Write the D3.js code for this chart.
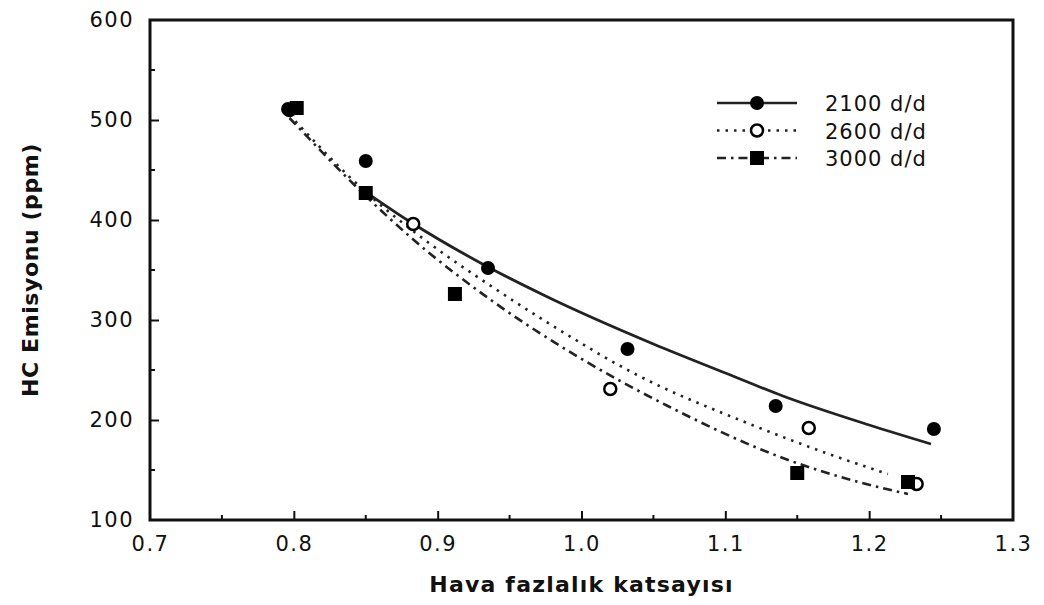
<!DOCTYPE html>
<html>
<head>
<meta charset="utf-8">
<script src="https://cdn.jsdelivr.net/npm/d3@7"></script>
<style>
  body { margin: 0; background: #fff; }
  svg { display: block; }
  text { font-family: "DejaVu Sans", sans-serif; fill: #111; }
</style>
</head>
<body>
<svg id="chart" width="1044" height="605"></svg>
<script>
// measured points (scatter markers)
const pts2100X = [0.796, 0.85, 0.935, 1.032, 1.135, 1.245]
const pts2100Y = [511, 459, 352, 271, 214, 191]
const pts2600X = [0.797, 0.883, 1.02, 1.158, 1.233]
const pts2600Y = [510, 396, 231, 192, 136]
const pts3000X = [0.802, 0.85, 0.912, 1.15, 1.227]
const pts3000Y = [512, 427, 326, 147, 138]

// fitted curves
const curve2100X = [0.848, 0.88, 0.935, 0.975, 1.05, 1.1, 1.14, 1.2, 1.243]
const curve2100Y = [430, 399, 353, 324, 276, 247, 224, 195, 176]
const curve2600X = [0.797, 0.85, 0.893, 0.936, 0.978, 1.036, 1.117, 1.17, 1.213]
const curve2600Y = [505, 428, 378, 335, 296, 247, 196, 167, 146]
const curve3000X = [0.797, 0.85, 0.881, 0.938, 0.999, 1.06, 1.14, 1.19, 1.227]
const curve3000Y = [502, 424, 383, 319, 262, 214, 162, 139, 126]

const seriesNames = ["2100 d/d", "2600 d/d", "3000 d/d"]
const xTicks = [0.7, 0.8, 0.9, 1.0, 1.1, 1.2, 1.3]
const yTicks = [100, 200, 300, 400, 500, 600]
const xMinor = [0.75, 0.85, 0.95, 1.05, 1.15, 1.25]
const yMinor = [150, 250, 350, 450, 550]

const svg = d3.select("#chart")
const margin = { top: 20, right: 31, bottom: 85, left: 150 }
const width = +svg.attr("width") - margin.left - margin.right
const height = +svg.attr("height") - margin.top - margin.bottom

const x = d3.scaleLinear().domain([0.7, 1.3]).range([0, width])
const y = d3.scaleLinear().domain([100, 600]).range([height, 0])

const g = svg.append("g").attr("transform", "translate(" + margin.left + "," + margin.top + ")")

const zip = (xs, ys) => xs.map((v, i) => ({ x: v, y: ys[i] }))

const series = [
    { name: seriesNames[0], curve: zip(curve2100X, curve2100Y), pts: zip(pts2100X, pts2100Y), dash: null, sym: "filled" },
    { name: seriesNames[1], curve: zip(curve2600X, curve2600Y), pts: zip(pts2600X, pts2600Y), dash: "2.5,6", sym: "open" },
    { name: seriesNames[2], curve: zip(curve3000X, curve3000Y), pts: zip(pts3000X, pts3000Y), dash: "9,5,2.5,5", sym: "square" },
]

// axes (ticks point inward)
const xAxis = g.append("g").attr("transform", "translate(0," + height + ")")
    .call(d3.axisBottom(x).tickValues(xTicks).tickSize(-9).tickPadding(20).tickFormat(d3.format(".1f")))
xAxis.append("g").selectAll("line").data(xMinor).enter().append("line")
    .attr("x1", d => x(d)).attr("x2", d => x(d)).attr("y1", 0).attr("y2", -5)
    .attr("stroke", "#111").attr("stroke-width", 2)

const yAxis = g.append("g")
    .call(d3.axisLeft(y).tickValues(yTicks).tickSize(-9).tickPadding(16).tickFormat(d3.format("d")))
yAxis.append("g").selectAll("line").data(yMinor).enter().append("line")
    .attr("y1", d => y(d)).attr("y2", d => y(d)).attr("x1", 0).attr("x2", 5)
    .attr("stroke", "#111").attr("stroke-width", 2)

g.selectAll(".domain").remove()
g.selectAll(".tick line").attr("stroke", "#111").attr("stroke-width", 2)
g.selectAll(".tick text").style("font-size", "21px").attr("letter-spacing", "1.5px").attr("fill", "#111")
xAxis.selectAll(".tick text").attr("dy", "0.5em")
// hide end ticks which sit on the frame
xAxis.selectAll(".tick line").filter(d => d === 0.7 || d === 1.3).remove()
yAxis.selectAll(".tick line").filter(d => d === 100 || d === 600).remove()

// frame
g.append("rect").attr("width", width).attr("height", height)
    .attr("fill", "none").attr("stroke", "#111").attr("stroke-width", 3)

// curves
const line = d3.line().x(d => x(d.x)).y(d => y(d.y)).curve(d3.curveMonotoneX)
g.selectAll(".curve").data(series).enter().append("path")
    .attr("class", "curve")
    .attr("d", d => line(d.curve))
    .attr("fill", "none")
    .attr("stroke", "#222")
    .attr("stroke-width", d => d.dash ? 2.6 : 2.8)
    .attr("stroke-dasharray", d => d.dash)

function drawSymbol (sel, sym) {
    if (sym === "square") {
        sel.append("rect").attr("x", -7).attr("y", -7).attr("width", 14).attr("height", 14).attr("fill", "#000")
    } else if (sym === "filled") {
        sel.append("circle").attr("r", 7).attr("fill", "#000")
    } else {
        sel.append("circle").attr("r", 6).attr("fill", "#fff").attr("stroke", "#000").attr("stroke-width", 2.5)
    }
}

// markers: open circles first so the square blob sits on top
const order = [series[1], series[0], series[2]]
order.forEach(s => {
    g.selectAll(null).data(s.pts).enter().append("g")
        .attr("transform", d => "translate(" + x(d.x) + "," + y(d.y) + ")")
        .each(function () { drawSymbol(d3.select(this), s.sym) })
})

// legend
const legend = svg.append("g").attr("transform", "translate(717,103)")
const rows = legend.selectAll("g").data(series).enter().append("g")
    .attr("transform", (d, i) => "translate(0," + i * 27.5 + ")")
rows.append("line").attr("x1", 0).attr("x2", 80).attr("y1", 0).attr("y2", 0)
    .attr("stroke", "#222").attr("stroke-width", 2.6)
    .attr("stroke-dasharray", d => d.dash)
rows.append("g").attr("transform", "translate(40,0)")
    .each(function (d) { drawSymbol(d3.select(this), d.sym) })
rows.append("text").attr("x", 108).attr("y", 8)
    .style("font-size", "21px").attr("letter-spacing", "1px")
    .text(d => d.name)

// axis titles
svg.append("text")
    .attr("x", margin.left + x(1.0)).attr("y", 592)
    .attr("text-anchor", "middle")
    .style("font-size", "22px").style("font-weight", "bold")
    .attr("letter-spacing", "1.2px")
    .text("Hava fazlalık katsayısı")

svg.append("text")
    .attr("transform", "translate(38,270) rotate(-90)")
    .attr("text-anchor", "middle")
    .style("font-size", "22px").style("font-weight", "bold")
    .attr("letter-spacing", "0.6px")
    .text("HC Emisyonu (ppm)")
</script>
</body>
</html>
